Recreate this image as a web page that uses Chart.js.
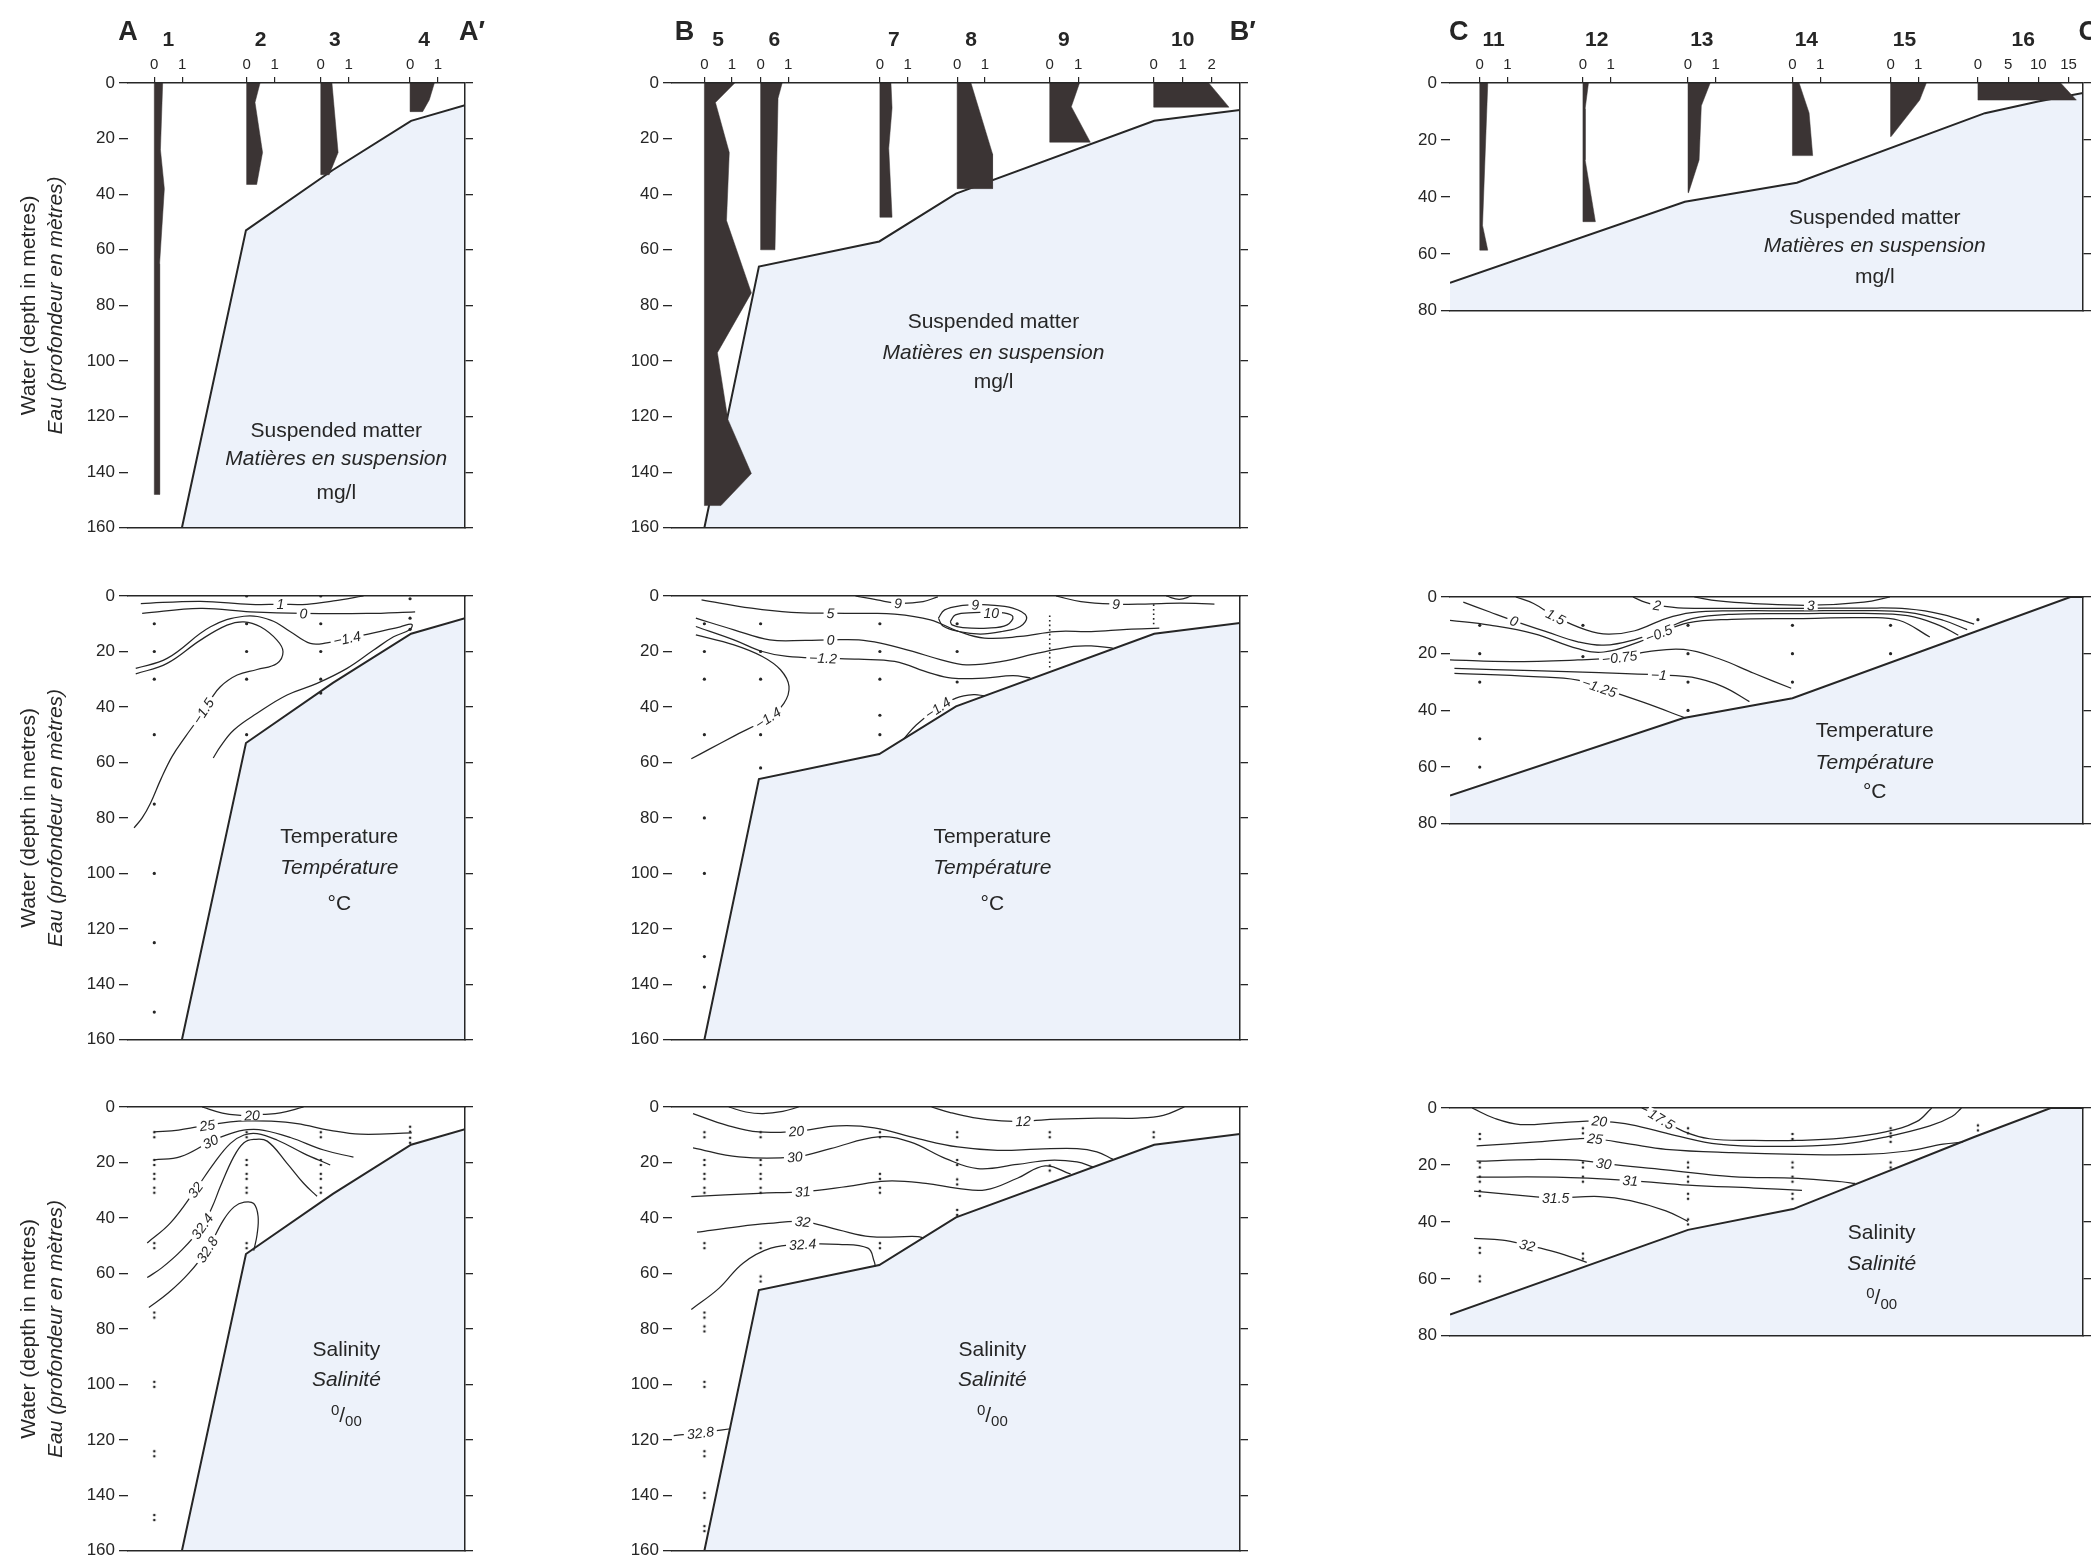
<!DOCTYPE html>
<html>
<head>
<meta charset="utf-8">
<script src="https://cdn.jsdelivr.net/npm/chart.js@4.4.1/dist/chart.umd.min.js"></script>
<style>
  html, body { margin: 0; padding: 0; background: #fff; }
  body { width: 2091px; height: 1557px; position: relative; overflow: hidden; }
  canvas { position: absolute; }
</style>
</head>
<body>
<script>
/* ===== Stations: position along each section (0-100 = section width) ===== */
var STN_A = [7.8, 35.2, 57.2, 83.7];
var STN_B = [5.7, 15.6, 36.6, 50.2, 66.5, 84.8];
var STN_C = [4.7, 21.0, 37.6, 54.1, 69.6, 83.4];
var NAMES_A = ['1', '2', '3', '4'];
var NAMES_B = ['5', '6', '7', '8', '9', '10'];
var NAMES_C = ['11', '12', '13', '14', '15', '16'];

/* ===== Sea floor [distance, depth m] ===== */
var FLOOR_A = [[16, 160], [35, 53], [60.8, 31.3], [84, 13.6], [100, 8]];
var FLOOR_B = [[5.7, 160], [15.3, 66], [36.5, 57], [50, 39.8], [84.9, 13.6], [100, 9.7]];
var FLOOR_C_SUS = [[0, 70.2], [37.1, 41.7], [54.8, 35], [84.5, 10.6], [92.9, 6.5], [100, 3.5]];
var FLOOR_C_TEMP = [[0, 70], [36.9, 42.7], [54.1, 35.7], [98, 0], [100, 0]];
var FLOOR_C_SAL = [[0, 72.5], [37.6, 42.8], [54.2, 35.5], [82.8, 10.2], [94.9, 0], [100, 0]];

/* ===== Suspended matter (mg/l) per station: depth levels d, values v ===== */
var SM_A = [
  { d: [0, 24, 38, 65, 148], v: [0.3, 0.22, 0.36, 0.19, 0.19] },
  { d: [0, 7, 25, 36.5], v: [0.48, 0.3, 0.57, 0.36] },
  { d: [0, 25, 33], v: [0.4, 0.62, 0.3] },
  { d: [0, 6, 10.3], v: [0.87, 0.69, 0.45] }
];
var SM_B = [
  { d: [0, 7, 25, 49.5, 75.5, 97, 121, 140.5, 152], v: [1.1, 0.4, 0.9, 0.8, 1.7, 0.47, 0.85, 1.7, 0.6] },
  { d: [0, 5.5, 60], v: [0.78, 0.63, 0.52] },
  { d: [0, 9, 23.5, 48.3], v: [0.4, 0.44, 0.32, 0.44] },
  { d: [0, 25.5, 38], v: [0.5, 1.28, 1.28] },
  { d: [0, 8.5, 21.3], v: [1.05, 0.76, 1.43] },
  { d: [0, 8.7], v: [1.9, 2.6] }
];
var SM_C = [
  { d: [0, 50, 58.7], v: [0.29, 0.1, 0.29] },
  { d: [0, 9, 27, 48.7], v: [0.2, 0.08, 0.08, 0.45] },
  { d: [0, 8, 27, 38.5], v: [0.8, 0.48, 0.4, 0.02] },
  { d: [0, 10.5, 25.5], v: [0.24, 0.6, 0.73] },
  { d: [0, 6, 18.8], v: [1.29, 1.05, 0.02] },
  { d: [0, 6], v: [13.7, 16.3] }
];
// mg/l scale printed above each station
var SM_TICKS_A = [[0, 1], [0, 1], [0, 1], [0, 1]];
var SM_TICKS_B = [[0, 1], [0, 1], [0, 1], [0, 1], [0, 1], [0, 1, 2]];
var SM_TICKS_C = [[0, 1], [0, 1], [0, 1], [0, 1], [0, 1], [0, 5, 10, 15]];

/* ===== Temperature isotherms (°C): label, label point, [distance, depth] ===== */
var TEMP_A = [
  { v: '1', at: 3, p: [[3.8, 2.75], [21.5, 1.9], [36.3, 3], [45.2, 3], [53.1, 3], [61, 1.8], [69.9, 0]] },
  { v: '0', at: 3, p: [[4.2, 6.3], [21.5, 4.5], [36.3, 5.7], [52.1, 6.3], [70.9, 6.3], [85.2, 5.7]] },
  { v: '−1.4', at: 8, p: [[2.3, 26.1], [11.6, 22.5], [24.5, 11.1], [34.4, 7.3], [42.3, 8.7], [48.2, 12.9], [54.1, 17.1], [59, 16.9], [65, 15.3], [72.9, 13.3], [80.8, 11.1], [84.2, 10.2], [83.7, 12.1], [78.8, 14.7], [72.9, 19.5], [65, 26.1], [56.1, 31.5], [47.2, 35.7], [38.3, 42.3], [31.4, 48.3], [27.4, 54.3], [25.3, 58.4]] },
  { v: '−1.5', at: 13, p: [[2.3, 28.1], [11.6, 24.3], [21.5, 15.9], [29.4, 10.5], [34.4, 9.3], [39.3, 11.1], [44.2, 15.9], [46, 20.1], [44.2, 24.3], [38.3, 26.5], [32.4, 28.5], [27.4, 32.7], [24.3, 37.7], [22.3, 41.5], [20, 45.7], [17.1, 50.6], [13.1, 57.8], [9.7, 66.2], [6.7, 74.6], [4.2, 80], [1.8, 83.6]] }
];
var TEMP_B = [
  { v: '9', at: 2, p: [[32.3, 0], [36.1, 1.4], [39.8, 2.6], [44.2, 2.0], [46.8, 0.3]] },
  { v: '9', at: 2, p: [[67.6, 0], [72, 2], [78.2, 2.9], [83.3, 2.9], [89.5, 2.6], [95.5, 2.9]] },
  { v: '', p: [[87, 0], [89.3, 1.2], [91.5, 0]] },
  { v: '9', at: 3, p: [[46.9, 8], [48, 5], [51.2, 3.4], [53.4, 3.2], [55.6, 3.2], [60, 4.4], [62.4, 7.4], [61.3, 11], [58.1, 12.8], [54.3, 13.7], [50.5, 12.8], [47.7, 10.8], [46.9, 8]] },
  { v: '10', at: 3, p: [[49, 9.2], [49.9, 6.8], [53.1, 6], [56.2, 6], [58.1, 6], [60, 7.4], [59, 10.4], [55.6, 11.6], [51.2, 11.4], [49.3, 10.4], [49, 9.2]] },
  { v: '5', at: 3, p: [[5.2, 1.4], [14, 4.4], [21, 5.9], [27.9, 6.2], [33, 6.3], [39.2, 6.5], [45.5, 8.6], [50.5, 12.8], [55, 15.2], [61.3, 14.6], [67.5, 12.8], [73.8, 12.8], [80.1, 12], [85.8, 11.6]] },
  { v: '0', at: 4, p: [[4.2, 8], [10.9, 12.2], [17.2, 15.8], [23.5, 16], [27.9, 15.8], [32.9, 15.8], [36.7, 17], [42.4, 20], [47.4, 23], [51.8, 24.8], [58.1, 23.6], [64.4, 20.6], [70.7, 18.2], [73.8, 18], [77.6, 18.8]] },
  { v: '−1.2', at: 4, p: [[4.2, 11], [10.9, 15.8], [15.9, 20], [20.3, 21.8], [26.6, 22.4], [32.9, 22.8], [39.2, 23.6], [45.5, 27.8], [49.3, 29.6], [55, 29.6], [60, 28.7], [63.1, 29.5]] },
  { v: '−1.4', at: 6, p: [[4.2, 14], [10.9, 17.6], [15.9, 21.8], [19.1, 26.6], [20.6, 32.6], [19.7, 38.7], [16.9, 44], [10.9, 50.5], [6.5, 55.3], [3.4, 58.7]] },
  { v: '−1.4', at: 2, p: [[40.8, 51.5], [43, 46.5], [46.8, 40.4], [50, 36.8], [53.1, 35.6], [55, 36]] }
];
var TEMP_C = [
  { v: '3', at: 3, p: [[38.6, 0], [42.4, 1.4], [48, 2.3], [57, 2.9], [65.4, 1.8], [69.5, 0]] },
  { v: '2', at: 2, p: [[28.9, 0], [30.9, 1.9], [32.7, 2.9], [36.9, 3.9], [44.5, 4.0], [54.9, 4.0], [65.4, 3.9], [72.3, 4.2], [77.9, 6.2], [82.8, 9.6]] },
  { v: '1.5', at: 2, p: [[10.4, 0], [13.2, 2.3], [16.7, 7], [21.6, 11.7], [25, 13.1], [29.2, 11.9], [34.1, 7.6], [38.2, 5.5], [44.5, 4.9], [55, 4.9], [65.4, 4.8], [72.3, 5.4], [77.9, 8.2], [81.7, 11.5]] },
  { v: '0', at: 2, p: [[2.1, 1.8], [6.3, 5.3], [10.1, 8.4], [15.3, 12.3], [20.2, 15.8], [24.3, 17], [29.2, 15], [34.1, 11.1], [38.2, 7.6], [44.5, 6.1], [55, 5.9], [65.4, 5.8], [72.3, 6.6], [77.2, 9.9], [80.3, 13.5]] },
  { v: '−0.5', at: 6, p: [[0, 8.2], [6.3, 9.9], [13.2, 12.9], [20.2, 18.2], [24.3, 19.4], [29.9, 15.8], [33, 12.9], [37.6, 9.1], [44.5, 7.9], [55, 7.6], [65.4, 7.3], [70.9, 8.2], [75.8, 14.1]] },
  { v: '−0.75', at: 3, p: [[0, 22.2], [9.7, 22.8], [20.2, 22.2], [26.8, 21.3], [31.3, 19.3], [36.9, 18.5], [42.4, 21.7], [48, 26.9], [53.9, 32.2]] },
  { v: '−1', at: 3, p: [[0.7, 25.2], [13.2, 26], [23.6, 26.7], [33, 27.5], [38.2, 28.3], [43.1, 31.6], [47.3, 36.9]] },
  { v: '−1.25', at: 3, p: [[0.7, 26.9], [13.2, 28.1], [20.2, 29.3], [23.6, 31.9], [30.6, 37.2], [37.2, 42.7]] }
];

/* ===== Salinity isohalines (‰) ===== */
var SAL_A = [
  { v: '20', at: 3, p: [[22, 0], [28, 2.2], [33.4, 3], [36.8, 3], [40, 2.7], [45.2, 2.1], [52.1, 0]] },
  { v: '25', at: 3, p: [[7.7, 9], [15, 8.3], [20.5, 7.2], [23.5, 6.6], [30.4, 5.4], [35.4, 5], [42.3, 5.1], [50.2, 6], [60, 8.4], [68.9, 9.8], [84.2, 9.3]] },
  { v: '30', at: 2, p: [[7.7, 19.1], [15.6, 17.9], [24.5, 12.5], [30.4, 9.6], [35.4, 8.2], [40.3, 8.4], [48.2, 11], [58.1, 15.5], [66.9, 18.1]] },
  { v: '32', at: 2, p: [[5.7, 49], [12.6, 41.8], [20, 29.9], [25.5, 20.3], [30.4, 13.1], [34.4, 10.1], [38.3, 9.6], [44.2, 11.9], [52.1, 16.7], [60, 20.9]] },
  { v: '32.4', at: 3, p: [[5.7, 61.5], [10, 58], [16, 51.5], [22, 43], [25, 36], [27.4, 28.7], [31.4, 17.9], [34.4, 12.9], [37.3, 11.7], [41.3, 12.3], [47.2, 20.3], [52.1, 27.5], [56.1, 32.2]] },
  { v: '32.8', at: 3, p: [[6.2, 72.3], [12, 67], [18, 60], [23.5, 51.4], [28.4, 40.6], [31.5, 36], [34.5, 34.3], [37.3, 34.8], [38.6, 39.4], [38.3, 46], [37.3, 51.8]] }
];
var SAL_B = [
  { v: '', p: [[10, 0], [13, 1.8], [16, 2.4], [19.5, 1.6], [22.3, 0]] },
  { v: '12', at: 4, p: [[45.7, 0], [49, 2], [53, 3.8], [58, 5], [61.8, 5.1], [67.8, 4.4], [75, 4], [82, 4], [86.5, 3], [90.2, 0]] },
  { v: '20', at: 3, p: [[3.7, 2.4], [9.7, 6.6], [15.3, 9], [21.9, 8.7], [29.3, 6.8], [35.6, 7.5], [43.3, 11.4], [50.3, 14.4], [57.3, 15.6], [64.3, 15.2], [71.3, 15], [74.8, 16.2], [77.6, 18.8]] },
  { v: '30', at: 2, p: [[3.7, 14.7], [11.8, 18], [21.6, 18], [27.9, 15], [36.3, 10.8], [41.9, 12.6], [48.2, 18.6], [53.8, 22.2], [60.8, 20.7], [66.4, 19.2], [71.3, 19.8], [74.1, 21.6]] },
  { v: '31', at: 2, p: [[3.4, 32.3], [15.3, 31.1], [23, 30.5], [30.7, 28.7], [37.7, 26.7], [44.7, 27.5], [50.3, 29.3], [55.2, 29.9], [60.8, 25.7], [65.7, 21.2], [70.2, 24.2]] },
  { v: '32', at: 3, p: [[4.4, 45.1], [11.8, 43.1], [17, 42], [23, 41.3], [29.3, 44.3], [34.9, 46.7], [43.3, 46.7], [44.3, 47.3]] },
  { v: '32.4', at: 4, p: [[3.4, 73], [8.3, 65.3], [12.5, 56.3], [17.4, 50.9], [23, 49.5], [29.3, 49.5], [34.5, 50.9], [35.6, 55.7], [35.8, 57.5]] },
  { v: '32.8', at: 2, p: [[0.3, 118.5], [2.5, 118], [5, 117.5], [7.5, 116.8], [10.3, 116]] }
];
var SAL_C = [
  { v: '17.5', at: 2, p: [[30.3, 0], [32.4, 2.2], [33.4, 3.9], [36.9, 8.2], [41, 10.8], [48, 11.4], [54.9, 11.4], [61.9, 10.6], [68.8, 8.4], [73.7, 4.8], [76.1, 0]] },
  { v: '20', at: 5, p: [[3.5, 0], [7, 3.6], [11.1, 5.8], [16.7, 5.2], [21.6, 4.6], [23.6, 4.6], [28.5, 5.8], [35.5, 9.6], [42.4, 12.7], [51.5, 13.5], [61.9, 12.7], [68.8, 10.2], [75.8, 6.3], [79.3, 3], [80.8, 0]] },
  { v: '25', at: 3, p: [[4.2, 13.3], [13.2, 12], [20.2, 10.8], [22.9, 10.8], [28.5, 12.7], [34.1, 14.5], [44.5, 15.7], [55, 16.3], [65.4, 16.3], [72.3, 15.1], [77.9, 12.7], [81, 12]] },
  { v: '30', at: 3, p: [[4.2, 18.7], [13.2, 18.1], [20.2, 18.3], [24.3, 19.5], [34.1, 21.7], [44.5, 24.1], [55, 24.7], [61.9, 25.9], [64, 26.5]] },
  { v: '31', at: 2, p: [[4.2, 24.3], [16.7, 24.3], [28.5, 25.5], [37.6, 27.1], [48, 28.1], [55.6, 28.9]] },
  { v: '31.5', at: 2, p: [[3.8, 29.2], [13.2, 31.1], [16.7, 31.6], [23.6, 31.1], [28.5, 32.5], [34.1, 36.1], [37.6, 39.8]] },
  { v: '32', at: 2, p: [[3.8, 45.8], [8.3, 46.4], [12.2, 48.2], [16.7, 50.6], [21.6, 54.2]] }
];

/* ===== Sampling depths (m) per station ===== */
var OBS_TEMP_A = [[10, 20, 30, 50, 75, 100, 125, 150], [0, 10, 20, 30, 50], [0, 10, 20, 30, 35], [1, 8, 12]];
var OBS_TEMP_B = [[10, 20, 30, 50, 80, 100, 130, 141], [10, 20, 30, 50, 62], [10, 20, 30, 43, 50], [10, 20, 31], [], []];
var OBS_TEMP_B_CONT = [[4, 7, 26], [5, 3, 11.3]];   // [station index, from, to] continuous casts
var OBS_TEMP_C = [[10, 20, 30, 50, 60], [10, 21], [10, 20, 30, 40], [10, 20, 30], [10, 20], [8]];
var OBS_SAL_A = [[10, 20, 25, 30, 50, 75, 100, 125, 148], [10, 20, 25, 30, 50], [10, 20, 25, 30], [8, 12]];
var OBS_SAL_B = [[10, 20, 25, 30, 50, 75, 80, 100, 125, 140, 152], [10, 20, 25, 30, 50, 62], [10, 25, 30, 50], [10, 20, 27, 38], [10, 22], [10]];
var OBS_SAL_C = [[10, 20, 25, 30, 50, 60], [8, 20, 25, 52], [8, 20, 25, 31, 40], [10, 20, 25, 31], [8, 11, 20], [7]];

var TXT_SUS = ['Suspended matter', 'Matières en suspension', 'mg/l'];
var TXT_TEMP = ['Temperature', 'Température', '°C'];
var TXT_SAL = ['Salinity', 'Salinité', '‰'];

/* ===== Look ===== */
var FONT = "'Liberation Sans', Arial, Helvetica, sans-serif";
var INK = '#262626';
var SEA = '#edf2fa';
var SM_FILL = '#3b3434';

// plot rectangles in page px
var COLS = { A: [128, 465], B: [672, 1240], C: [1450, 2083] };
var ROWS_AB = { sus: [83, 528], temp: [596, 1040], sal: [1107, 1551] };
var ROWS_C = { sus: [83, 311], temp: [597, 824], sal: [1108, 1336] };
var PAD = { l: 120, r: 26, b: 14 };

var COLON = document.createElement('canvas');
COLON.width = 6; COLON.height = 9;
(function () {
    var c = COLON.getContext('2d');
    c.fillStyle = INK;
    c.beginPath(); c.arc(3, 2, 1.3, 0, 7); c.fill();
    c.beginPath(); c.arc(3, 7, 1.3, 0, 7); c.fill();
})();

function xy(arr) { return arr.map(function (p) { return { x: p[0], y: p[1] }; }); }

function drawPermil(ctx, x, y) {
    ctx.font = '21px ' + FONT;
    var ws = ctx.measureText('/').width;
    ctx.font = '15px ' + FONT;
    var w0 = ctx.measureText('0').width, w00 = ctx.measureText('00').width;
    var cx = x - (w0 + ws + w00) / 2;
    ctx.textAlign = 'left';
    ctx.fillText('0', cx, y - 5); cx += w0;
    ctx.font = '21px ' + FONT; ctx.fillText('/', cx, y); cx += ws;
    ctx.font = '15px ' + FONT; ctx.fillText('00', cx, y + 6);
    ctx.textAlign = 'center';
}

function decorPlugin(cfg) {
    return {
        id: 'decor',
        afterDraw: function (chart) {
            var ctx = chart.ctx, xs = chart.scales.x, ys = chart.scales.y, ca = chart.chartArea;
            var px = function (v) { return xs.getPixelForValue(v); };
            var py = function (v) { return ys.getPixelForValue(v); };
            ctx.save();
            ctx.textAlign = 'center';
            ctx.textBaseline = 'middle';

            /* contour labels */
            ctx.font = 'italic 14px ' + FONT;
            (cfg.contours || []).forEach(function (c) {
                if (c.at === undefined) return;
                var p = c.p, k = c.at;
                var a = p[Math.max(0, k - 1)], b = p[Math.min(p.length - 1, k + 1)];
                var ang = Math.atan2(py(b[1]) - py(a[1]), px(b[0]) - px(a[0]));
                if (ang > Math.PI / 2) ang -= Math.PI;
                if (ang < -Math.PI / 2) ang += Math.PI;
                var w = ctx.measureText(c.v).width;
                ctx.save();
                ctx.translate(px(p[k][0]), py(p[k][1]));
                ctx.rotate(ang);
                ctx.fillStyle = '#fff';
                ctx.fillRect(-w / 2 - 3, -5, w + 6, 10);
                ctx.fillStyle = INK;
                ctx.fillText(c.v, 0, 1);
                ctx.restore();
            });

            /* caption inside the sea floor */
            ctx.fillStyle = INK;
            cfg.note.lines.forEach(function (s, i) {
                var x = px(cfg.note.x), y = py(cfg.note.y[i]);
                if (s === '‰') { drawPermil(ctx, x, y); return; }
                ctx.font = (i === 1 ? 'italic ' : '') + '21px ' + FONT;
                ctx.fillText(s, x, y);
            });

            /* station numbers and section letters */
            if (cfg.names) {
                ctx.font = 'bold 21px ' + FONT;
                cfg.stations.forEach(function (x0, i) {
                    var t = cfg.ticks[i];
                    var mid = (t[0] + t[t.length - 1]) / 2;
                    ctx.fillText(cfg.names[i], px(x0 + mid * cfg.perMgl[i]), ca.top - 43);
                });
                ctx.font = 'bold 27px ' + FONT;
                ctx.fillText(cfg.letter, px(cfg.letterAt[0]), ca.top - 50);
                ctx.textAlign = 'left';
                ctx.fillText(cfg.letter + '′', px(cfg.letterAt[1]), ca.top - 50);
                ctx.textAlign = 'center';
            }

            /* depth title, column A only */
            if (cfg.ytitle) {
                var cy = (ca.top + ca.bottom) / 2;
                ctx.save();
                ctx.translate(ca.left - 99, cy); ctx.rotate(-Math.PI / 2);
                ctx.font = '21px ' + FONT;
                ctx.fillText('Water (depth in metres)', 0, 0);
                ctx.restore();
                ctx.save();
                ctx.translate(ca.left - 72, cy); ctx.rotate(-Math.PI / 2);
                ctx.font = 'italic 21px ' + FONT;
                ctx.fillText('Eau (profondeur en mètres)', 0, 0);
                ctx.restore();
            }
            ctx.restore();
        }
    };
}

function makePanel(cfg) {
    var cx = COLS[cfg.col];
    var ry = (cfg.col === 'C' ? ROWS_C : ROWS_AB)[cfg.row];
    var padT = cfg.row === 'sus' ? 70 : 15;
    var W = cx[1] - cx[0] + PAD.l + PAD.r;
    var H = ry[1] - ry[0] + padT + PAD.b;
    var cv = document.createElement('canvas');
    cv.width = W; cv.height = H;
    cv.style.left = (cx[0] - PAD.l) + 'px';
    cv.style.top = (ry[0] - padT) + 'px';
    document.body.appendChild(cv);

    var datasets = [];
    // sea floor
    datasets.push({
        data: xy(cfg.floor), borderColor: INK, borderWidth: 2, backgroundColor: SEA,
        fill: { value: cfg.max }, pointRadius: 0, tension: 0, order: 10
    });

    var tickVals = [], tickLabels = [];
    if (cfg.sm) {
        cfg.stations.forEach(function (x0, i) {
            var p = cfg.sm[i], u = cfg.perMgl[i];
            var poly = p.d.map(function (d, k) { return { x: x0 + p.v[k] * u, y: d }; });
            poly.push({ x: x0, y: p.d[p.d.length - 1] }, { x: x0, y: 0 });
            datasets.push({
                data: poly, borderWidth: 0.5, borderColor: SM_FILL, backgroundColor: SM_FILL,
                fill: 'shape', pointRadius: 0, tension: 0, order: 1
            });
            cfg.ticks[i].forEach(function (t) { tickVals.push(x0 + t * u); tickLabels.push(String(t)); });
        });
    }
    (cfg.contours || []).forEach(function (c) {
        datasets.push({
            data: xy(c.p), borderColor: INK, borderWidth: 1.25, fill: false,
            pointRadius: 0, tension: 0.4, order: 2
        });
    });
    if (cfg.obs) {
        var pts = [];
        cfg.obs.forEach(function (ds, i) {
            ds.forEach(function (d) { pts.push({ x: cfg.stations[i], y: d }); });
        });
        datasets.push({
            data: pts, showLine: false, pointRadius: cfg.colon ? 2 : 1.6,
            pointStyle: cfg.colon ? COLON : 'circle',
            pointBackgroundColor: INK, pointBorderWidth: 0, order: 0
        });
    }
    (cfg.casts || []).forEach(function (c) {
        var x = cfg.stations[c[0]];
        datasets.push({
            data: [{ x: x, y: c[1] }, { x: x, y: c[2] }], borderColor: INK, borderWidth: 1.6,
            borderDash: [1.6, 3], pointRadius: 0, fill: false, order: 0
        });
    });

    var topAxis = cfg.sm ? {
        type: 'linear', position: 'top', min: 0, max: 100,
        afterBuildTicks: function (s) { s.ticks = tickVals.map(function (v) { return { value: v }; }); },
        ticks: {
            autoSkip: false, maxRotation: 0, padding: 3, color: INK,
            font: { family: FONT, size: 15 },
            callback: function (v, i) { return tickLabels[i]; }
        },
        grid: { drawOnChartArea: false, tickLength: 6, color: INK, lineWidth: 1.2 },
        border: { display: true, color: INK, width: 1.5, z: 1 },
        afterFit: function (s) { s.height = padT; }
    } : {
        type: 'linear', position: 'top', min: 0, max: 100,
        ticks: { display: false }, grid: { display: false },
        border: { display: true, color: INK, width: 1.5, z: 1 },
        afterFit: function (s) { s.height = padT; }
    };

    new Chart(cv, {
        type: 'line',
        data: { datasets: datasets },
        options: {
            responsive: false, animation: false, devicePixelRatio: 1, events: [],
            layout: { padding: 0 },
            plugins: { legend: { display: false }, tooltip: { enabled: false } },
            scales: {
                x: {
                    type: 'linear', position: 'bottom', min: 0, max: 100,
                    ticks: { display: false }, grid: { display: false },
                    border: { display: true, color: INK, width: 1.5, z: 1 },
                    afterFit: function (s) { s.height = PAD.b; }
                },
                x2: topAxis,
                y: {
                    type: 'linear', position: 'left', min: 0, max: cfg.max, reverse: true,
                    ticks: { stepSize: 20, padding: 4, color: INK, font: { family: FONT, size: 17 } },
                    grid: { drawOnChartArea: false, tickLength: 9, color: INK, lineWidth: 1.3 },
                    border: { display: false },
                    afterFit: function (s) { s.width = PAD.l; }
                },
                y2: {
                    type: 'linear', position: 'right', min: 0, max: cfg.max, reverse: true,
                    ticks: { display: false, stepSize: 20 },
                    grid: { drawOnChartArea: false, tickLength: 8, color: INK, lineWidth: 1.3 },
                    border: { display: true, color: INK, width: 1.5, z: 1 },
                    afterFit: function (s) { s.width = PAD.r; }
                }
            }
        },
        plugins: [decorPlugin(cfg)]
    });
}

var PANELS = [
    { col: 'A', row: 'sus', max: 160, floor: FLOOR_A, stations: STN_A, names: NAMES_A, sm: SM_A, ticks: SM_TICKS_A,
      perMgl: [8.3, 8.3, 8.3, 8.3], letter: 'A', letterAt: [0, 98.2], ytitle: true,
      note: { x: 61.8, y: [125.3, 135.2, 147.6], lines: TXT_SUS } },
    { col: 'B', row: 'sus', max: 160, floor: FLOOR_B, stations: STN_B, names: NAMES_B, sm: SM_B, ticks: SM_TICKS_B,
      perMgl: [4.87, 4.87, 4.87, 4.87, 5.0, 5.1], letter: 'B', letterAt: [2.2, 98.2],
      note: { x: 56.6, y: [86, 97.2, 107.7], lines: TXT_SUS } },
    { col: 'C', row: 'sus', max: 80, floor: FLOOR_C_SUS, stations: STN_C, names: NAMES_C, sm: SM_C, ticks: SM_TICKS_C,
      perMgl: [4.38, 4.38, 4.38, 4.38, 4.38, 0.954], letter: 'C', letterAt: [1.4, 99.3],
      note: { x: 67.1, y: [47.5, 57.3, 68.1], lines: TXT_SUS } },

    { col: 'A', row: 'temp', max: 160, floor: FLOOR_A, stations: STN_A, contours: TEMP_A, obs: OBS_TEMP_A, ytitle: true,
      note: { x: 62.7, y: [86.8, 98, 111], lines: TXT_TEMP } },
    { col: 'B', row: 'temp', max: 160, floor: FLOOR_B, stations: STN_B, contours: TEMP_B, obs: OBS_TEMP_B, casts: OBS_TEMP_B_CONT,
      note: { x: 56.4, y: [86.8, 98, 111], lines: TXT_TEMP } },
    { col: 'C', row: 'temp', max: 80, floor: FLOOR_C_TEMP, stations: STN_C, contours: TEMP_C, obs: OBS_TEMP_C,
      note: { x: 67.1, y: [47.4, 58.5, 69], lines: TXT_TEMP } },

    { col: 'A', row: 'sal', max: 160, floor: FLOOR_A, stations: STN_A, contours: SAL_A, obs: OBS_SAL_A, colon: true, ytitle: true,
      note: { x: 64.8, y: [87.6, 98.4, 111.4], lines: TXT_SAL } },
    { col: 'B', row: 'sal', max: 160, floor: FLOOR_B, stations: STN_B, contours: SAL_B, obs: OBS_SAL_B, colon: true,
      note: { x: 56.4, y: [87.6, 98.4, 111.4], lines: TXT_SAL } },
    { col: 'C', row: 'sal', max: 80, floor: FLOOR_C_SAL, stations: STN_C, contours: SAL_C, obs: OBS_SAL_C, colon: true,
      note: { x: 68.2, y: [44, 54.8, 66.9], lines: TXT_SAL } }
];

PANELS.forEach(makePanel);
</script>
</body>
</html>
